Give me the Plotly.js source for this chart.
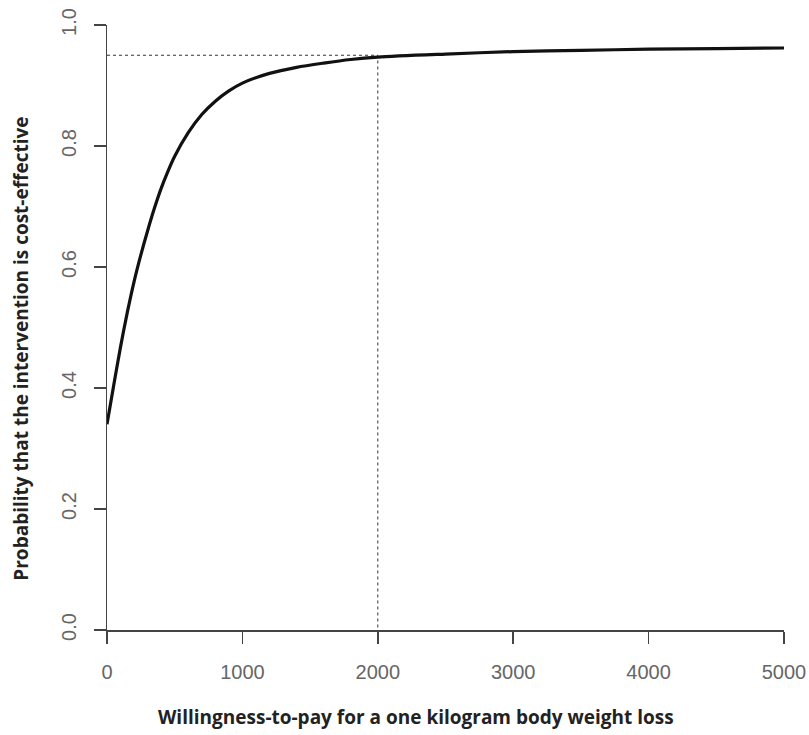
<!DOCTYPE html>
<html>
<head>
<meta charset="utf-8">
<script src="https://cdn.plot.ly/plotly-3.0.1.min.js"></script>
<style>html,body{margin:0;padding:0;background:#fff;}#chart{width:809px;height:735px;}</style>
</head>
<body>
<div id="chart"></div>
<script>
// Willingness-to-pay values (x) and probability of cost-effectiveness (y)
const wtp = [0, 50, 100, 150, 200, 250, 300, 350, 400, 450, 500, 600, 700, 800, 900, 1000, 1200, 1400, 1600, 1800, 2000, 2500, 3000, 3500, 4000, 4500, 5000];
const prob = [0.340, 0.405, 0.468, 0.525, 0.576, 0.620, 0.660, 0.697, 0.730, 0.758, 0.783, 0.822, 0.852, 0.874, 0.891, 0.904, 0.920, 0.930, 0.937, 0.943, 0.947, 0.952, 0.956, 0.958, 0.960, 0.961, 0.962];
// Reference threshold: WTP of 2000 gives probability 0.95
const refWtp = [0, 2000, 2000];
const refProb = [0.95, 0.95, 0];
const xTicks = [0, 1000, 2000, 3000, 4000, 5000];
const yTicks = [0.0, 0.2, 0.4, 0.6, 0.8, 1.0];
const yTickText = ["0.0", "0.2", "0.4", "0.6", "0.8", "1.0"];
const xTitle = 'Willingness-to-pay for a one kilogram body weight loss';
const yTitle = 'Probability that the intervention is cost-effective';

const traces = [
  {x: refWtp, y: refProb, mode: 'lines', line: {color: '#333', width: 1, dash: 'dot'}, hoverinfo: 'skip', showlegend: false},
  {x: wtp, y: prob, mode: 'lines', line: {color: '#111', width: 3.2, shape: 'spline', smoothing: 0.8}, showlegend: false}
];

const tickFont = {family: 'Liberation Sans, Arial, sans-serif', size: 20, color: '#666'};
const titleFont = {family: 'Open Sans, sans-serif', size: 19, color: '#222'};
const layout = {
  width: 809, height: 735,
  margin: {l: 107, r: 25, t: 25, b: 105, pad: 0},
  paper_bgcolor: '#fff', plot_bgcolor: '#fff',
  showlegend: false,
  xaxis: {
    range: [0, 5000], tickvals: xTicks, ticktext: xTicks.map(String),
    showgrid: false, zeroline: false, showline: true, linecolor: '#444', linewidth: 1.5,
    ticks: 'outside', ticklen: 12, tickwidth: 1.5, tickcolor: '#444',
    tickfont: tickFont, ticklabelstandoff: 11
  },
  yaxis: {
    range: [0, 1], tickvals: yTicks, ticktext: yTickText, tickangle: -90,
    showgrid: false, zeroline: false, showline: true, linecolor: '#444', linewidth: 1.5,
    ticks: 'outside', ticklen: 12, tickwidth: 1.5, tickcolor: '#444',
    tickfont: tickFont, ticklabelstandoff: 10
  },
  annotations: [
    {text: '<b>' + xTitle + '</b>', xref: 'paper', yref: 'paper', x: 0.457, y: -0.143,
     xanchor: 'center', yanchor: 'middle', showarrow: false, font: titleFont},
    {text: '<b>' + yTitle + '</b>', xref: 'paper', yref: 'paper', x: -0.127, y: 0.465,
     xanchor: 'center', yanchor: 'middle', textangle: -90, showarrow: false, font: titleFont}
  ]
};
Plotly.newPlot('chart', traces, layout, {displayModeBar: false, staticPlot: true});
</script>
</body>
</html>
